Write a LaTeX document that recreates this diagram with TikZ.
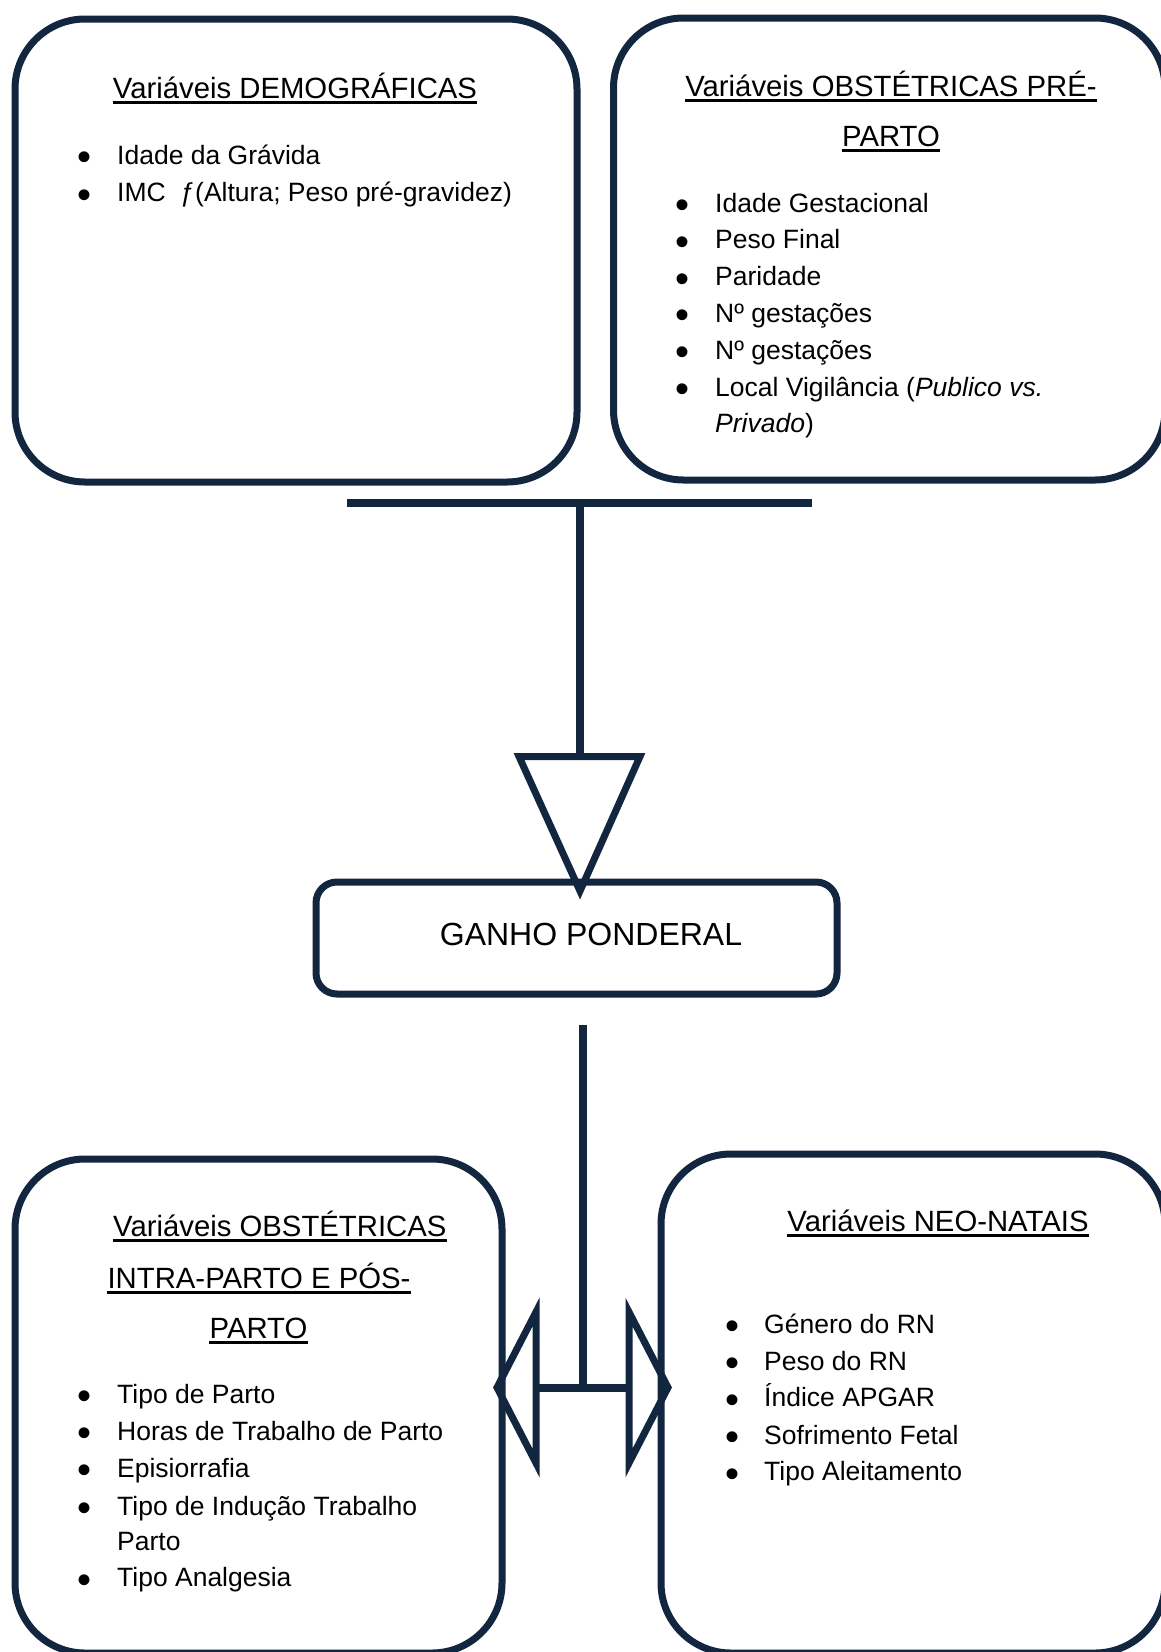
\documentclass[tikz,border=0pt]{standalone}
\usepackage{fontspec}
\setmainfont{Liberation Sans}
\definecolor{navy}{RGB}{18,38,64}
\begin{document}
\begin{tikzpicture}[x=1pt,y=-1pt,
  box/.style={draw=navy,line width=7pt,rounded corners=70pt,inner sep=0pt,outer sep=0pt},
  gbox/.style={draw=navy,line width=7pt,rounded corners=21pt,inner sep=0pt,outer sep=0pt},
  conn/.style={draw=navy,line width=8.5pt},
  head/.style={draw=navy,line width=7pt,miter limit=20},
  ttl/.style={font=\fontsize{29.3}{35}\selectfont,inner sep=0pt,anchor=base},
  itm/.style={font=\fontsize{26.5}{32}\selectfont,inner sep=0pt,anchor=base west},
  bul/.style={font=\fontsize{40}{42}\selectfont,inner sep=0pt,anchor=base},
  ul/.style={draw=black,line width=2.7pt}]
\fill[white] (0,0) rectangle (1160,1652);
\useasboundingbox (0,0) rectangle (1160,1652);

% boxes
\node[box,minimum width=562pt,minimum height=463pt] (demo) at (296,250.5) {};
\node[box,minimum width=551.5pt,minimum height=462pt] (pre) at (889.25,249) {};
\node[box,minimum width=487pt,minimum height=494pt] (intra) at (258.5,1406) {};
\node[box,minimum width=504pt,minimum height=499pt] (neo) at (913,1403.5) {};
\node[gbox,minimum width=521pt,minimum height=112pt] (ganho) at (576.5,938) {};
\node[inner sep=0pt,anchor=base,font=\fontsize{32}{38}\selectfont] (gtxt) at (591,945) {GANHO PONDERAL};

% titles
\node[ttl] (ta) at (295,98.3) {Variáveis DEMOGRÁFICAS};
\node[ttl] (tb1) at (891,96.7) {Variáveis OBSTÉTRICAS PRÉ-};
\node[ttl] (tb2) at (891,146.7) {PARTO};
\node[ttl,anchor=base west] (tc1) at (113,1236.7) {Variáveis OBSTÉTRICAS};
\node[ttl] (tc2) at (259,1288.3) {INTRA-PARTO E PÓS-};
\node[ttl] (tc3) at (258.5,1338.3) {PARTO};
\node[ttl] (td) at (938,1231.7) {Variáveis NEO-NATAIS};
\foreach \t in {ta,tb1,tb2,tc1,tc2,tc3,td}
  \draw[ul] ([yshift=-4pt]\t.base west) -- ([yshift=-4pt]\t.base east);

% items: demographic
\node[bul] (a1b) at (85,170.5) {•};
\node[itm] (a1) at (117,164) {Idade da Grávida};
\node[bul] (a2b) at (85,208) {•};
\node[itm] (a2) at (117,201.5) {IMC\ \ ƒ(Altura; Peso pré-gravidez)};

% items: pre-parto
\node[bul] (b1b) at (682,218.5) {•};
\node[itm] (b1) at (715,212) {Idade Gestacional};
\node[bul] (b2b) at (682,255.3) {•};
\node[itm] (b2) at (715,248.8) {Peso Final};
\node[bul] (b3b) at (682,292.1) {•};
\node[itm] (b3) at (715,285.6) {Paridade};
\node[bul] (b4b) at (682,328.9) {•};
\node[itm] (b4) at (715,322.4) {Nº gestações};
\node[bul] (b5b) at (682,365.7) {•};
\node[itm] (b5) at (715,359.2) {Nº gestações};
\node[bul] (b6b) at (682,402.5) {•};
\node[itm] (b6) at (715,396) {Local Vigilância (\textit{Publico vs.}};
\node[itm] (b7) at (715,432.8) {\textit{Privado})};

% items: intra/pos-parto
\node[bul] (c1b) at (85,1409.8) {•};
\node[itm] (c1) at (117,1403.3) {Tipo de Parto};
\node[bul] (c2b) at (85,1446.5) {•};
\node[itm] (c2) at (117,1440) {Horas de Trabalho de Parto};
\node[bul] (c3b) at (85,1483.8) {•};
\node[itm] (c3) at (117,1477.3) {Episiorrafia};
\node[bul] (c4b) at (85,1521.5) {•};
\node[itm] (c4) at (117,1515) {Tipo de Indução Trabalho};
\node[itm] (c5) at (117,1550) {Parto};
\node[bul] (c6b) at (85,1593.2) {•};
\node[itm] (c6) at (117,1586.7) {Tipo Analgesia};

% items: neo-natais
\node[bul] (d1b) at (732,1339.8) {•};
\node[itm] (d1) at (764,1333.3) {Género do RN};
\node[bul] (d2b) at (732,1376.5) {•};
\node[itm] (d2) at (764,1370) {Peso do RN};
\node[bul] (d3b) at (732,1413.2) {•};
\node[itm] (d3) at (764,1406.7) {Índice APGAR};
\node[bul] (d4b) at (732,1450.5) {•};
\node[itm] (d4) at (764,1444) {Sofrimento Fetal};
\node[bul] (d5b) at (732,1487.2) {•};
\node[itm] (d5) at (764,1480.7) {Tipo Aleitamento};

% top connector
\coordinate (barL) at (347,503);
\coordinate (barR) at (812,503);
\coordinate (barM) at (580,503);
\coordinate (triT) at (580,756.5);
\coordinate (triL) at (519,756.5);
\coordinate (triR) at (640,756.5);
\coordinate (triA) at (580,891);
\draw[conn] (barL) -- (barR);
\draw[conn] (barM) -- (triT);
\draw[head] (triL) -- (triR) -- (triA) -- cycle;

% bottom connector
\coordinate (vTop) at (583,1025);
\coordinate (vBot) at (583,1387.5);
\coordinate (lBack) at (536,1387.5);
\coordinate (rBack) at (629,1387.5);
\coordinate (lT) at (536,1312);
\coordinate (lB) at (536,1463);
\coordinate (lTip) at (497,1387.5);
\coordinate (rT) at (629,1312);
\coordinate (rB) at (629,1463);
\coordinate (rTip) at (668,1387.5);
\draw[conn] (vTop) -- (vBot);
\draw[conn,line width=8pt] (lBack) -- (rBack);
\draw[head] (lT) -- (lTip) -- (lB) -- cycle;
\draw[head] (rT) -- (rTip) -- (rB) -- cycle;
\end{tikzpicture}
\end{document}
